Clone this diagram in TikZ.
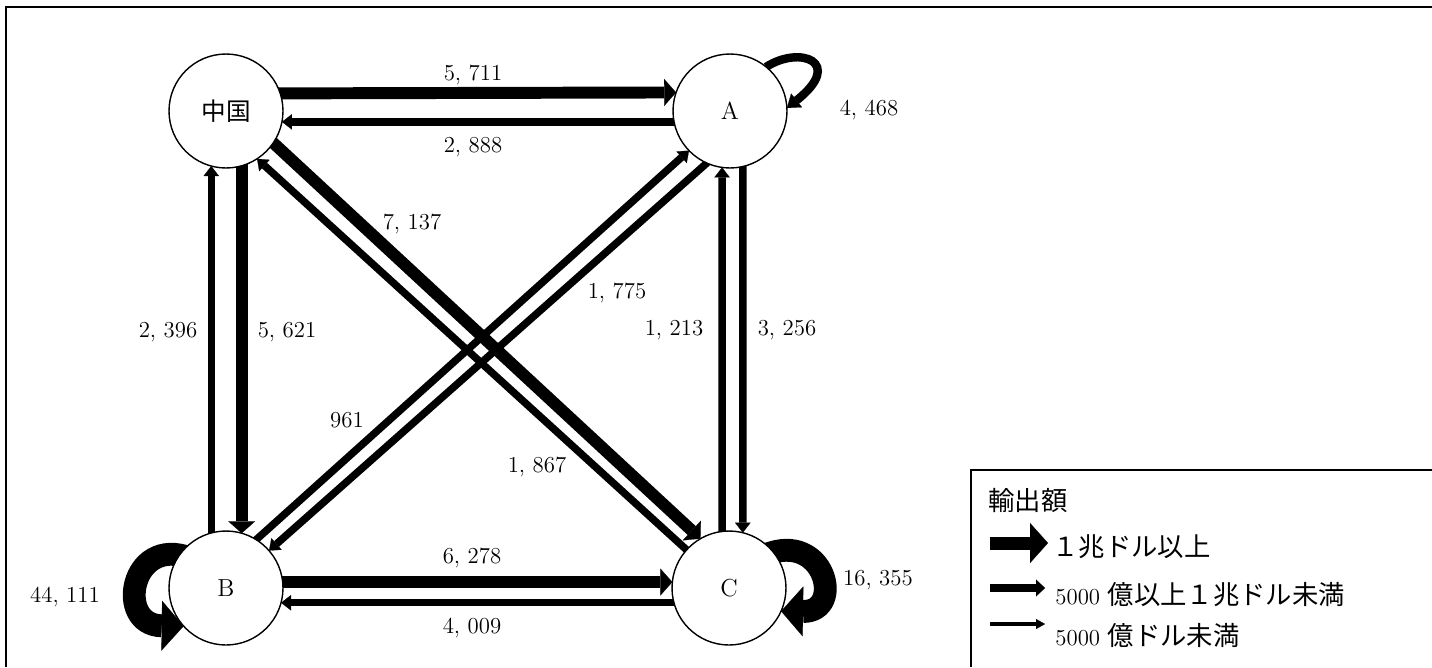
\documentclass[tikz,border=0pt]{standalone}
\usepackage{fontspec}
\newfontfamily\cjk{Noto Sans CJK JP}
\usetikzlibrary{arrows.meta,backgrounds,calc}
\begin{document}
\begin{tikzpicture}[x=0.02cm,y=-0.02cm,
  country/.style={circle,draw,line width=0.8pt,fill=white,minimum size=2.28cm,inner sep=0pt,outer sep=0pt,font=\fontsize{14}{16}\selectfont},
  lbl/.style={inner sep=0pt,font=\fontsize{13}{15}\selectfont},
  lowflow/.style={line width=4.25pt,-{Triangle[length=5.7pt,width=8.8pt,line width'=0.1pt]},shorten <=-4pt},
  midflow/.style={line width=6.8pt,-{Triangle[length=6.8pt,width=15.3pt,line width'=0.1pt]},shorten <=-4pt},
  bigflow/.style={line width=13pt,-{Triangle[length=12.5pt,width=28.4pt,line width'=0.1pt]}},
  smallloop/.style={line width=4.8pt,-{Triangle[length=7pt,width=10pt,line width'=0.1pt]}},
  legcjk/.style={inner sep=0pt,font=\fontsize{15}{17}\selectfont\cjk},
]
\useasboundingbox (0,0) rectangle (1432,667);
% frames
\draw[line width=0.9pt] (1432,7) -- (6,7) -- (6,667);
\draw[line width=0.7pt] (1432,470) -- (971,470) -- (971,667);

% countries
\node[country] (cn) at (226,111) {\cjk 中国};
\node[country] (A) at (730,111) {A};
\node[country] (B) at (226,588) {B};
\node[country] (C) at (729,588) {C};

\begin{pgfonlayer}{background}
% top pair
\draw[midflow] (cn.18.4) -- (A.161.6);
\draw[lowflow] (A.191.1) -- (cn.-11.1);
% bottom pair
\draw[midflow] (B.6) -- (C.174);
\draw[lowflow] (C.195.3) -- (B.-15.3);
% left verticals
\draw[midflow] (cn.-74.7) -- (B.74.7);
\draw[lowflow] (B.105.3) -- (cn.-105.3);
% right verticals
\draw[lowflow] (A.-77.8) -- (C.76.8);
\draw[lowflow] (C.97) -- (A.-98.1);
% diagonals
\draw[midflow] (cn.-34) -- (C.120);
\draw[lowflow] (C.138) -- (cn.-57);
\draw[lowflow] (B.58) -- (A.224);
\draw[lowflow] (A.246) -- (B.41);
% loops
\draw[smallloop] ($(A)+(36,-44)$) .. controls ($(A)+(70,-66)$) and ($(A)+(115,-49)$) .. (A.3);
\draw[bigflow] ($(C)+(36,-33)$) .. controls ($(C)+(96,-58)$) and ($(C)+(116,24)$) .. (C.-24);
\draw[bigflow] ($(B)+(-36,-30)$) .. controls ($(B)+(-96,-53)$) and ($(B)+(-111,37)$) .. (B.222);
\end{pgfonlayer}

% labels
\node[lbl] (t5711) at (473,75) {5, 711};
\node[lbl] (t2888) at (473,147) {2, 888};
\node[lbl] (t4468) at (869,110) {4, 468};
\node[lbl] (t7137) at (412,224) {7, 137};
\node[lbl] (t1775) at (617,293) {1, 775};
\node[lbl] (t2396) at (168,332) {2, 396};
\node[lbl] (t5621) at (287,332) {5, 621};
\node[lbl] (t1213) at (674,330) {1, 213};
\node[lbl] (t3256) at (787,330) {3, 256};
\node[lbl] (t961) at (347,420) {961};
\node[lbl] (t1867) at (537,467) {1, 867};
\node[lbl] (t6278) at (472,558) {6, 278};
\node[lbl] (t4009) at (472,628) {4, 009};
\node[lbl] (t44111) at (65,597) {44, 111};
\node[lbl] (t16355) at (878,580) {16, 355};

% legend
\node[legcjk,anchor=west] (lgt) at (988,500) {輸出額};
\coordinate (l1s) at (990,543); \coordinate (l1e) at (1048,543);
\coordinate (l2s) at (990,588); \coordinate (l2e) at (1045,588);
\coordinate (l3s) at (990,624); \coordinate (l3e) at (1045,624);
\draw[line width=7.4pt,-{Triangle[length=10.2pt,width=22.7pt,line width'=0.1pt]}] (l1s) -- (l1e);
\draw[line width=4.5pt,-{Triangle[length=5.1pt,width=9.6pt,line width'=0.1pt]}] (l2s) -- (l2e);
\draw[line width=2.6pt,-{Triangle[length=5.1pt,width=5.7pt,line width'=0.1pt]}] (l3s) -- (l3e);
\node[legcjk,anchor=west] (l1t) at (1052,547) {１兆ドル以上};
\node[lbl,anchor=base west] (l2d) at (1055,604) {5000};
\node[legcjk,anchor=base west] (l2t) at ([xshift=4pt]l2d.base east) {億以上１兆ドル未満};
\node[lbl,anchor=base west] (l3d) at (1055,645) {5000};
\node[legcjk,anchor=base west] (l3t) at ([xshift=4pt]l3d.base east) {億ドル未満};
\end{tikzpicture}
\end{document}
